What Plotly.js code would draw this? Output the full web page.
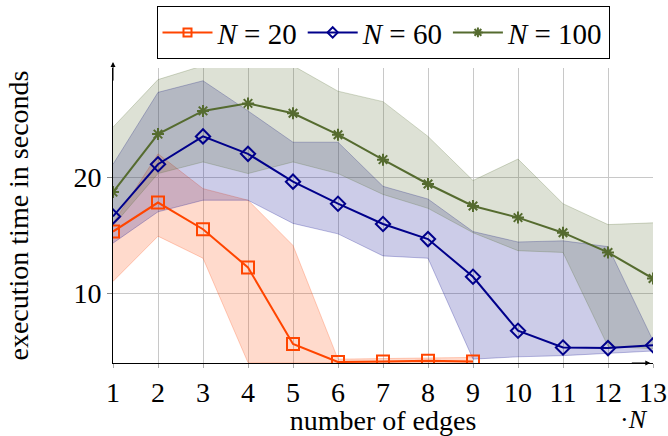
<!DOCTYPE html>
<html>
<head>
<meta charset="utf-8">
<script src="https://cdn.plot.ly/plotly-3.0.1.min.js"></script>
<style>html,body{margin:0;padding:0;background:#fff;}#chart{width:668px;height:436px;}</style>
</head>
<body>
<div id="chart"></div>
<script>
const edges = [1,2,3,4,5,6,7,8,9,10,11,12,13];
const tickLabelsY = [10, 20];

const n20x = [1,2,3,4,5,6,7,8,9];
const n20Mean = [15.3, 17.8, 15.5, 12.2, 5.6, 4.05, 4.1, 4.15, 4.1];
const n20Upper = [16.0, 22.0, 19.0, 18.0, 14.1, 4.3, 4.35, 4.4, 4.45];
const n20Lower = [11.0, 14.9, 13.0, 4.0, 4.0, 4.0, 4.0, 4.0, 4.0];

const n60Mean = [16.6, 21.1, 23.5, 22.0, 19.6, 17.7, 15.95, 14.65, 11.4, 6.75, 5.3, 5.25, 5.5];
const n60Upper = [21.1, 27.3, 28.3, 25.7, 23.0, 23.0, 19.2, 18.1, 15.3, 14.4, 14.5, 14.0, 5.9];
const n60Lower = [14.3, 17.0, 18.0, 18.0, 16.0, 15.1, 13.2, 13.0, 4.3, 4.5, 4.6, 4.8, 5.0];

const n100Mean = [18.7, 23.7, 25.7, 26.35, 25.5, 23.65, 21.5, 19.4, 17.5, 16.5, 15.2, 13.5, 11.25];
const n100Upper = [24.3, 28.4, 29.6, 29.6, 29.6, 27.4, 26.5, 23.5, 19.7, 21.55, 17.7, 15.9, 16.05];
const n100Lower = [15.8, 20.3, 21.3, 20.3, 21.3, 20.3, 18.5, 17.3, 15.2, 13.65, 13.5, 5.4, 5.2];

const series = [
  {name: '<i>N</i> = 20', x: n20x, mean: n20Mean, up: n20Upper, lo: n20Lower,
   color: 'rgb(255,69,0)', rgb: '255,69,0', symbol: 'square-open', size: 12, lsize: 8},
  {name: '<i>N</i> = 60', x: edges, mean: n60Mean, up: n60Upper, lo: n60Lower,
   color: 'rgb(0,0,139)', rgb: '0,0,139', symbol: 'diamond-open', size: 11, lsize: 8},
  {name: '<i>N</i> = 100', x: edges, mean: n100Mean, up: n100Upper, lo: n100Lower,
   color: 'rgb(85,107,47)', rgb: '85,107,47', symbol: 'asterisk-open', size: 10, lsize: 8}
];

const traces = [];
series.forEach(s => {
  traces.push({x: s.x, y: s.up, mode: 'lines', showlegend: false, hoverinfo: 'skip',
    line: {color: 'rgba(' + s.rgb + ',0.25)', width: 1}});
  traces.push({x: s.x, y: s.lo, mode: 'lines', showlegend: false, hoverinfo: 'skip',
    fill: 'tonexty', fillcolor: 'rgba(' + s.rgb + ',0.2)',
    line: {color: 'rgba(' + s.rgb + ',0.25)', width: 1}});
});
series.forEach(s => {
  traces.push({x: s.x, y: s.mean, mode: 'lines+markers', name: s.name, showlegend: false,
    line: {color: s.color, width: 2},
    marker: {symbol: s.symbol, size: s.size, color: s.color, line: {color: s.color, width: 2}}});
});
// legend entries (smaller marker, as in the reference legend)
series.forEach(s => {
  traces.push({x: [null], y: [null], mode: 'lines+markers', name: s.name,
    line: {color: s.color, width: 2},
    marker: {symbol: s.symbol, size: s.lsize, color: s.color, line: {color: s.color, width: 2}}});
});

const FONT = "'Liberation Serif', 'DejaVu Serif', serif";

const layout = {
  width: 668, height: 436,
  margin: {l: 113, r: 15, t: 68, b: 73, autoexpand: false},
  paper_bgcolor: '#fff', plot_bgcolor: '#fff',
  font: {family: FONT, size: 28, color: '#000'},
  showlegend: true,
  legend: {orientation: 'h', x: 0.5, xanchor: 'center', y: 1.21, yanchor: 'top',
    bordercolor: '#000', borderwidth: 1, font: {family: FONT, size: 29}, itemwidth: 50,
    traceorder: 'normal', tracegroupgap: 0},
  xaxis: {range: [1, 13], tickvals: edges, ticktext: edges.map(String),
    showgrid: true, gridcolor: '#c8c8c8', gridwidth: 1, zeroline: false,
    showline: true, linecolor: '#000', linewidth: 1, ticks: 'outside', ticklen: 4, tickcolor: '#aaa',
    title: {text: 'number of edges', font: {family: FONT, size: 28}, standoff: 4},
    tickfont: {family: FONT, size: 28}},
  yaxis: {range: [3.966, 29.4], tickvals: tickLabelsY, ticktext: tickLabelsY.map(String),
    showgrid: true, gridcolor: '#c8c8c8', gridwidth: 1, zeroline: false,
    showline: true, linecolor: '#000', linewidth: 1, ticks: 'outside', ticklen: 5, tickcolor: '#888',
    title: {text: 'execution time in seconds', font: {family: FONT, size: 28}, standoff: 36},
    tickfont: {family: FONT, size: 28}},
  annotations: [
    {xref: 'paper', yref: 'paper', x: 0, y: 1.02, ax: 0, ay: 20, text: '', showarrow: true,
     arrowhead: 2, arrowsize: 1, arrowwidth: 1, arrowcolor: '#000'},
    {xref: 'paper', yref: 'paper', x: 0.995, y: 0, ax: -20, ay: 0, text: '', showarrow: true,
     arrowhead: 2, arrowsize: 1, arrowwidth: 1, arrowcolor: '#000'},
    {xref: 'paper', yref: 'paper', x: 0.965, y: -0.136, xanchor: 'center', yanchor: 'top',
     text: '·<i>N</i>', showarrow: false, font: {family: FONT, size: 26}}
  ]
};

Plotly.newPlot('chart', traces, layout, {displayModeBar: false, staticPlot: true});
</script>
</body>
</html>
